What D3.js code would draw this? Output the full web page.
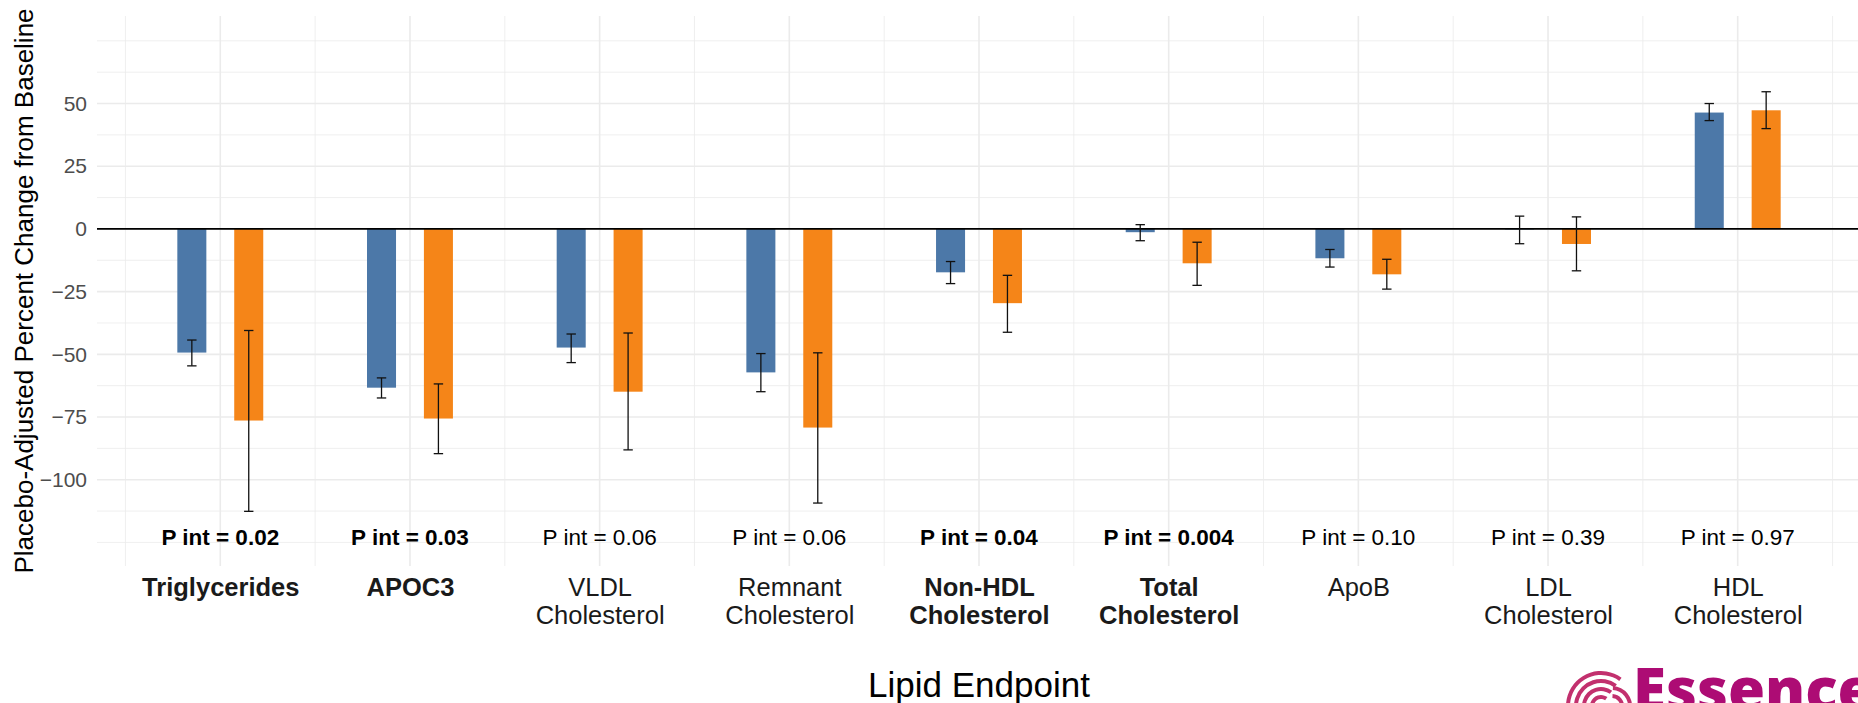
<!DOCTYPE html>
<html>
<head>
<meta charset="utf-8">
<script src="https://cdn.jsdelivr.net/npm/d3@7/dist/d3.min.js"></script>
<style>
	body { margin: 0; background: #fff; }
	svg { display: block; font-family: "Liberation Sans", Arial, sans-serif; }
</style>
</head>
<body>
<div id="chart-container"></div>
<script>
// values
var categories = ["Triglycerides", "APOC3", "VLDL Cholesterol", "Remnant Cholesterol", "Non-HDL Cholesterol",
				  "Total Cholesterol", "ApoB", "LDL Cholesterol", "HDL Cholesterol"];
var categoryLines = [["Triglycerides"], ["APOC3"], ["VLDL", "Cholesterol"], ["Remnant", "Cholesterol"],
					 ["Non-HDL", "Cholesterol"], ["Total", "Cholesterol"], ["ApoB"], ["LDL", "Cholesterol"], ["HDL", "Cholesterol"]];
var significant = [true, true, false, false, true, true, false, false, false];
var pInt = ["0.02", "0.03", "0.06", "0.06", "0.04", "0.004", "0.10", "0.39", "0.97"];

var series = ["group1", "group2"];
var group1Values = [-49.3, -63.3, -47.3, -57.2, -17.3, -1.3, -11.7, -0.2, 46.4];
var group1Low    = [-54.6, -67.4, -53.3, -64.9, -21.8, -4.7, -15.2, -5.9, 43.2];
var group1High   = [-44.3, -59.4, -41.9, -49.7, -13.0, 1.7, -8.2, 5.1, 50.0];
var group2Values = [-76.4, -75.6, -64.9, -79.2, -29.6, -13.7, -18.1, -6.0, 47.3];
var group2Low    = [-112.6, -89.6, -88.1, -109.3, -41.2, -22.5, -24.0, -16.7, 40.0];
var group2High   = [-40.5, -61.8, -41.5, -49.4, -18.5, -5.3, -12.1, 4.8, 54.7];

var yTicks = [-100, -75, -50, -25, 0, 25, 50];
var yDomain = [-134.4, 84.9];

var colors = { group1: "#4c78a8", group2: "#f58518" };

draw_chart();

function draw_chart() {
	var width = 1858, height = 703;
	var panel = { left: 97, right: 1861, top: 16, bottom: 566 };
	var pLabelY = -123;

	var svg = d3.select("#chart-container").append("svg")
				.attr("width", width)
				.attr("height", height);

	var x = d3.scalePoint()
			  .domain(categories)
			  .range([panel.left, panel.right])
			  .padding(0.65);
	var step = x.step();

	var xSub = d3.scaleBand()
				 .domain(series)
				 .range([-step * 0.3, step * 0.3]);
	var barWidth = xSub.bandwidth() * 0.51;

	var y = d3.scaleLinear()
			  .domain(yDomain)
			  .range([panel.bottom, panel.top]);

	// grid
	var grid = svg.append("g").attr("class", "grid");
	var minorY = d3.range(-125, 80, 12.5).filter(function(v) { return yTicks.indexOf(v) < 0; });
	var minorX = d3.range(categories.length + 1).map(function(i) { return x(categories[0]) + (i - 0.5) * step; });

	grid.selectAll(".minor-y").data(minorY).enter().append("line")
		.attr("x1", panel.left).attr("x2", panel.right)
		.attr("y1", function(d) { return y(d); }).attr("y2", function(d) { return y(d); })
		.attr("stroke", "#ebebeb").attr("stroke-width", 0.8);
	grid.selectAll(".minor-x").data(minorX).enter().append("line")
		.attr("x1", function(d) { return d; }).attr("x2", function(d) { return d; })
		.attr("y1", panel.top).attr("y2", panel.bottom)
		.attr("stroke", "#ebebeb").attr("stroke-width", 0.8);
	grid.selectAll(".major-y").data(yTicks).enter().append("line")
		.attr("x1", panel.left).attr("x2", panel.right)
		.attr("y1", function(d) { return y(d); }).attr("y2", function(d) { return y(d); })
		.attr("stroke", "#ebebeb").attr("stroke-width", 1.6);
	grid.selectAll(".major-x").data(categories).enter().append("line")
		.attr("x1", function(d) { return x(d); }).attr("x2", function(d) { return x(d); })
		.attr("y1", panel.top).attr("y2", panel.bottom)
		.attr("stroke", "#ebebeb").attr("stroke-width", 1.6);

	// bars and error bars
	var rows = [];
	categories.forEach(function(c, i) {
		rows.push({ cat: c, key: "group1", value: group1Values[i], lo: group1Low[i], hi: group1High[i] });
		rows.push({ cat: c, key: "group2", value: group2Values[i], lo: group2Low[i], hi: group2High[i] });
	});

	function cx(d) { return x(d.cat) + xSub(d.key) + xSub.bandwidth() / 2; }

	svg.append("g").selectAll("rect").data(rows).enter().append("rect")
	   .attr("x", function(d) { return cx(d) - barWidth / 2; })
	   .attr("y", function(d) { return y(Math.max(0, d.value)); })
	   .attr("width", barWidth)
	   .attr("height", function(d) { return Math.abs(y(d.value) - y(0)); })
	   .attr("fill", function(d) { return colors[d.key]; });

	svg.append("line")
	   .attr("x1", panel.left).attr("x2", panel.right)
	   .attr("y1", y(0)).attr("y2", y(0))
	   .attr("stroke", "#000").attr("stroke-width", 1.8);

	var errs = svg.append("g").attr("stroke", "#111").attr("stroke-width", 1.3);
	var capHalf = 4.7;
	errs.selectAll(".stem").data(rows).enter().append("line")
		.attr("x1", cx).attr("x2", cx)
		.attr("y1", function(d) { return y(d.hi); }).attr("y2", function(d) { return y(d.lo); });
	errs.selectAll(".cap-hi").data(rows).enter().append("line")
		.attr("x1", function(d) { return cx(d) - capHalf; }).attr("x2", function(d) { return cx(d) + capHalf; })
		.attr("y1", function(d) { return y(d.hi); }).attr("y2", function(d) { return y(d.hi); });
	errs.selectAll(".cap-lo").data(rows).enter().append("line")
		.attr("x1", function(d) { return cx(d) - capHalf; }).attr("x2", function(d) { return cx(d) + capHalf; })
		.attr("y1", function(d) { return y(d.lo); }).attr("y2", function(d) { return y(d.lo); });

	// P interaction labels
	svg.append("g").selectAll("text").data(categories).enter().append("text")
	   .attr("x", function(d) { return x(d); })
	   .attr("y", y(pLabelY))
	   .attr("dy", "0.35em")
	   .attr("text-anchor", "middle")
	   .attr("font-size", "22.5px")
	   .attr("font-weight", function(d, i) { return significant[i] ? "bold" : "normal"; })
	   .attr("fill", "#000")
	   .text(function(d, i) { return "P int = " + pInt[i]; });

	// y axis
	var yAxis = svg.append("g")
				   .attr("transform", "translate(" + panel.left + ",0)")
				   .call(d3.axisLeft(y).tickValues(yTicks).tickSize(0).tickPadding(10));
	yAxis.select(".domain").remove();
	yAxis.selectAll("text")
		 .attr("font-size", "21px")
		 .attr("font-family", "Liberation Sans, Arial, sans-serif")
		 .attr("fill", "#4d4d4d");

	// x axis, multi-line labels
	var xAxis = svg.append("g")
				   .attr("transform", "translate(0," + panel.bottom + ")")
				   .call(d3.axisBottom(x).tickSize(0).tickPadding(12));
	xAxis.select(".domain").remove();
	xAxis.selectAll("text")
		 .attr("font-size", "25.5px")
		 .attr("font-family", "Liberation Sans, Arial, sans-serif")
		 .attr("fill", "#1a1a1a")
		 .attr("dy", null)
		 .attr("font-weight", function(d) { return significant[categories.indexOf(d)] ? "bold" : "normal"; })
		 .each(function(d) {
		 	var el = d3.select(this);
		 	var lines = categoryLines[categories.indexOf(d)];
		 	el.text(null);
		 	lines.forEach(function(line, k) {
		 		el.append("tspan")
		 		  .attr("x", 0)
		 		  .attr("dy", k == 0 ? "0.71em" : 28.3)
		 		  .text(line);
		 	});
		 });

	// axis titles
	svg.append("text")
	   .attr("transform", "translate(33," + ((10 + 572) / 2) + ") rotate(-90)")
	   .attr("text-anchor", "middle")
	   .attr("font-size", "26px")
	   .attr("fill", "#000")
	   .text("Placebo-Adjusted Percent Change from Baseline");

	svg.append("text")
	   .attr("x", (panel.left + panel.right) / 2)
	   .attr("y", 697)
	   .attr("text-anchor", "middle")
	   .attr("font-size", "35px")
	   .attr("fill", "#000")
	   .text("Lipid Endpoint");

	draw_logo(svg);
}

function draw_logo(svg) {
	var defs = svg.append("defs");
	var grad = defs.append("linearGradient")
				   .attr("id", "logo-grad")
				   .attr("gradientUnits", "userSpaceOnUse")
				   .attr("x1", 1568).attr("y1", 703).attr("x2", 1628).attr("y2", 665);
	grad.append("stop").attr("offset", "0%").attr("stop-color", "#c2306e");
	grad.append("stop").attr("offset", "45%").attr("stop-color", "#f07a2a");
	grad.append("stop").attr("offset", "80%").attr("stop-color", "#f0a040");
	grad.append("stop").attr("offset", "100%").attr("stop-color", "#c8d838");

	var logo = svg.append("g");
	var arc = d3.arc();
	[9, 17, 25, 33].forEach(function(r) {
		logo.append("path")
			.attr("transform", "translate(1601,706)")
			.attr("d", arc({ innerRadius: r - 2, outerRadius: r + 2, startAngle: -Math.PI, endAngle: Math.PI * 0.2 }))
			.attr("fill", "url(#logo-grad)");
	});
	[10, 18].forEach(function(r) {
		logo.append("path")
			.attr("transform", "translate(1612,706)")
			.attr("d", arc({ innerRadius: r - 2, outerRadius: r + 2, startAngle: 0.05, endAngle: Math.PI * 0.55 }))
			.attr("fill", "url(#logo-grad)");
	});

	svg.append("text")
	   .attr("x", 1633)
	   .attr("y", 711)
	   .attr("font-family", "'Open Sans', Lato, sans-serif")
	   .attr("font-weight", 800)
	   .attr("font-size", "60px")
	   .attr("fill", "#ad0c74")
	   .text("Essence");
}
</script>
</body>
</html>
